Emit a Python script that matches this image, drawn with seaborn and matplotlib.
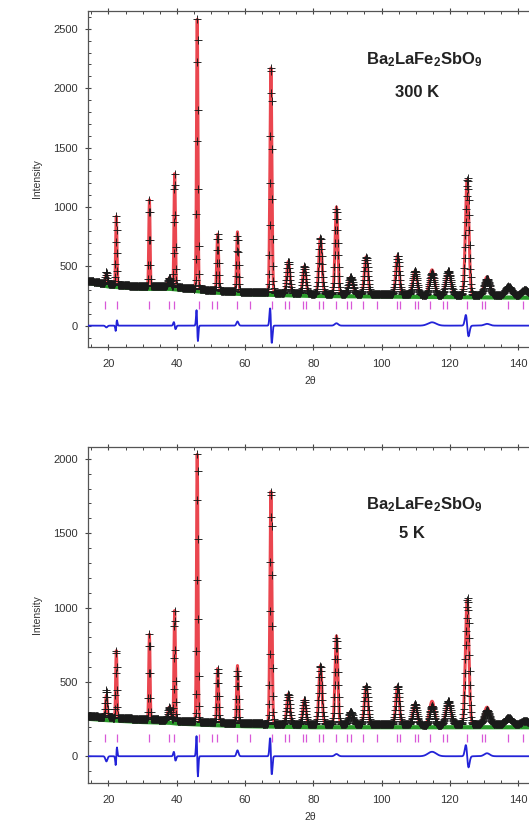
import numpy as np
import pandas as pd
import matplotlib
matplotlib.use("Agg")
import matplotlib.pyplot as plt
from matplotlib.ticker import MultipleLocator
import seaborn as sns

# ---------------- data ----------------
peak_pos = [19.4, 22.3, 32.0, 37.8, 39.4, 46.0, 52.0, 57.8, 67.6, 72.7, 77.4, 82.1,
            86.8, 91.0, 95.5, 104.7, 109.8, 114.8, 119.6, 125.1, 130.9, 137.2, 142.0]
peak_top_300K = [440, 920, 1060, 400, 1280, 2580, 770, 790, 2170, 540, 500, 740,
                 1000, 410, 580, 590, 460, 470, 460, 1230, 410, 330, 300]
peak_top_5K = [410, 710, 820, 330, 980, 2030, 590, 610, 1780, 420, 380, 610,
               810, 300, 470, 470, 350, 370, 370, 1050, 330, 260, 240]
peak_sigma = [0.25, 0.18, 0.18, 0.40, 0.20, 0.20, 0.25, 0.25, 0.28, 0.45, 0.45, 0.45,
              0.40, 0.60, 0.50, 0.50, 0.60, 0.70, 0.70, 0.50, 0.80, 0.90, 0.90]

bkg_nodes = [14, 20, 30, 38, 40, 50, 60, 80, 100, 120, 144]
bkg_300K = [380, 350, 330, 330, 325, 300, 285, 270, 265, 260, 255]
bkg_5K = [272, 262, 250, 245, 240, 230, 222, 215, 215, 215, 215]
bkg_line_300K = [360, 330, 310, 310, 305, 280, 265, 250, 245, 240, 235]
bkg_line_5K = [252, 242, 230, 225, 220, 210, 202, 195, 195, 195, 195]

# difference-curve features: antisymmetric (peak-shift-like) and bumps
dshift_pos = [22.3, 39.4, 46.0, 67.6, 125.1]
dshift_amp_300K = [-45, 30, 130, 150, 90]
dshift_amp_5K = [-60, 30, 135, 125, 75]
dshift_sig = [0.18, 0.25, 0.20, 0.25, 0.40]
dbump_pos = [19.4, 57.8, 86.8, 114.8, 130.9]
dbump_amp_300K = [-15, 35, 20, 28, 15]
dbump_amp_5K = [-35, 40, 15, 30, 20]
dbump_sig = [0.3, 0.3, 0.5, 1.2, 0.8]

bragg_pos = [19.1, 22.6, 32.0, 37.6, 39.1, 46.4, 50.4, 51.9, 57.7, 61.5, 67.9, 71.8,
             72.8, 77.0, 77.9, 81.8, 82.8, 86.7, 90.0, 91.0, 94.7, 98.6, 104.5, 105.4,
             109.8, 110.8, 114.2, 118.1, 119.1, 125.0, 129.4, 130.3, 137.1, 141.5]
bragg_level_300K = 170
bragg_level_5K = 120

panels = [
    dict(top=peak_top_300K, bkg=bkg_300K, bline=bkg_line_300K, dsa=dshift_amp_300K,
         dba=dbump_amp_300K, bragg=bragg_level_300K, ylim=(-180, 2650),
         temp="300 K", formula_xy=(112.5, 2240), temp_xy=(110.4, 1960)),
    dict(top=peak_top_5K, bkg=bkg_5K, bline=bkg_line_5K, dsa=dshift_amp_5K,
         dba=dbump_amp_5K, bragg=bragg_level_5K, ylim=(-180, 2080),
         temp="5 K", formula_xy=(112.5, 1690), temp_xy=(108.9, 1500)),
]

two_theta = np.arange(14.0, 144.01, 0.1)


def profile(p):
    bkg = np.interp(two_theta, bkg_nodes, p["bkg"])
    calc = bkg.copy()
    for c, t, s in zip(peak_pos, p["top"], peak_sigma):
        amp = t - np.interp(c, bkg_nodes, p["bkg"])
        calc += amp * np.exp(-0.5 * ((two_theta - c) / s) ** 2)
    diff = np.zeros_like(two_theta)
    for c, a, s in zip(dshift_pos, p["dsa"], dshift_sig):
        u = (two_theta - c) / s
        diff += -a * u * np.exp(0.5 - 0.5 * u ** 2)
    for c, a, s in zip(dbump_pos, p["dba"], dbump_sig):
        diff += a * np.exp(-0.5 * ((two_theta - c) / s) ** 2)
    return calc, diff


# ---------------- figure ----------------
sns.set_theme(style="ticks")
plt.rcParams["font.family"] = ["Liberation Sans", "DejaVu Sans"]
plt.rcParams["mathtext.fontset"] = "custom"
plt.rcParams["mathtext.rm"] = "Liberation Sans"
plt.rcParams["mathtext.bf"] = "Liberation Sans:bold"

fig = plt.figure(figsize=(5.29, 8.27), dpi=100)
W, H = 529, 827
ax_w = (531.7 - 88) / W
positions = [[88 / W, 1 - 347 / H, ax_w, 336 / H],
             [88 / W, 1 - 783 / H, ax_w, 336 / H]]

tick_col = "#444444"
for p, pos in zip(panels, positions):
    ax = fig.add_axes(pos)
    calc, diff = profile(p)
    obs = calc - diff
    df = pd.DataFrame({"tt": two_theta, "calc": calc, "obs": obs, "diff": diff})

    sns.lineplot(x=bkg_nodes, y=p["bline"], ax=ax, color="#2a9a2a", lw=3,
                 estimator=None, sort=False, zorder=1)
    sns.lineplot(data=df, x="tt", y="calc", ax=ax, color="#e8323c", lw=2.2,
                 estimator=None, sort=False, zorder=2, alpha=0.9)
    sns.scatterplot(data=df, x="tt", y="obs", ax=ax, marker="+", s=30,
                    color="#1a1a1a", linewidth=0.65, zorder=3, legend=False)
    sns.lineplot(data=df, x="tt", y="diff", ax=ax, color="#2323d8", lw=1.3,
                 estimator=None, sort=False, zorder=3)
    sns.scatterplot(x=bragg_pos, y=[p["bragg"]] * len(bragg_pos), ax=ax, marker="|",
                    s=40, color="#d858d8", linewidth=0.9, zorder=3, legend=False)

    ax.set_xlim(14, 144)
    ax.set_ylim(*p["ylim"])
    ax.xaxis.set_major_locator(MultipleLocator(20))
    ax.xaxis.set_minor_locator(MultipleLocator(5))
    ax.yaxis.set_major_locator(MultipleLocator(500))
    ax.yaxis.set_minor_locator(MultipleLocator(100))
    ax.tick_params(which="major", direction="inout", length=5, width=0.8,
                   labelsize=8, colors=tick_col, labelcolor="#333333", pad=5,
                   top=True, bottom=True, left=True, right=False)
    ax.tick_params(which="minor", direction="in", length=2.5, width=0.7,
                   colors=tick_col, top=True, bottom=True, left=True, right=False)
    ax.tick_params(axis="x", which="major", labeltop=False, pad=6)
    for side in ["left", "top", "bottom"]:
        ax.spines[side].set_color("#555555")
        ax.spines[side].set_linewidth(0.9)
    ax.spines["right"].set_visible(False)
    ax.set_xlabel("2θ", fontsize=7.5, color="#333333", labelpad=5)
    ax.set_ylabel("Intensity", fontsize=7.5, color="#333333", labelpad=8)

    ax.text(*p["formula_xy"], r"$\mathbf{Ba_2LaFe_2SbO_9}$", fontsize=12,
            ha="center", va="center", color="#222222")
    ax.text(*p["temp_xy"], p["temp"], fontsize=12, fontweight="bold",
            ha="center", va="center", color="#222222")

fig.savefig("out.png", dpi=100)
